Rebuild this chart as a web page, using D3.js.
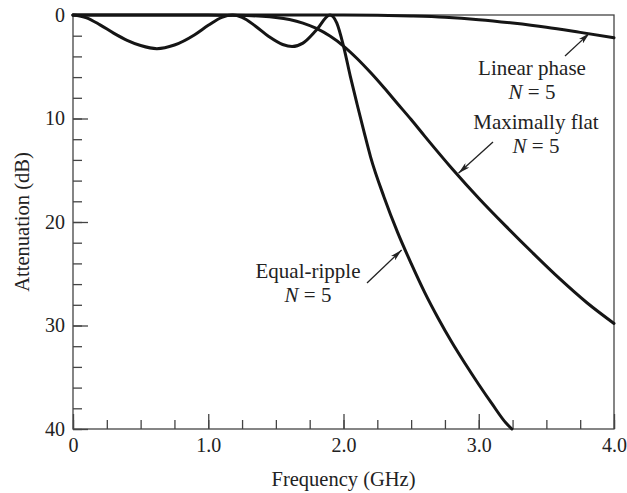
<!DOCTYPE html>
<html><head><meta charset="utf-8">
<script src="https://cdn.jsdelivr.net/npm/d3@7"></script>
<style>
html,body{margin:0;padding:0;background:#fff;}
svg{display:block;}
text{font-family:"Liberation Serif","Times New Roman",serif;fill:#222;}
</style></head>
<body>
<svg id="chart" width="627" height="493"></svg>
<script>
// ---- data ----
const xTickValues = [0, 1, 2, 3, 4];
const xTickLabels = ["0", "1.0", "2.0", "3.0", "4.0"];
const yTickValues = [0, 10, 20, 30, 40];
const yTickLabels = ["0", "10", "20", "30", "40"];

const equalRippleFreq = [0, 0.1, 0.2, 0.3, 0.4, 0.5, 0.62, 0.75, 0.9, 1.0, 1.1, 1.18, 1.25, 1.35, 1.45, 1.55, 1.62, 1.7, 1.8, 1.9, 1.95, 2.0, 2.05, 2.1, 2.15, 2.2, 2.3, 2.4, 2.5, 2.6, 2.7, 2.8, 2.9, 3.0, 3.1, 3.2, 3.245];
const equalRippleAtten = [0, 0.27, 0.95, 1.75, 2.45, 2.95, 3.25, 2.9, 1.9, 1.0, 0.22, 0, 0.23, 1.08, 2.1, 2.85, 3.05, 2.72, 1.45, 0, 0.76, 3.0, 5.9, 8.6, 11.2, 13.7, 17.6, 21.0, 24.0, 26.8, 29.3, 31.6, 33.7, 35.7, 37.6, 39.4, 40];

const maxFlatFreq = [0, 0.5, 1.0, 1.2, 1.4, 1.5, 1.6, 1.7, 1.8, 1.9, 2.0, 2.1, 2.2, 2.3, 2.4, 2.5, 2.6, 2.8, 3.0, 3.2, 3.4, 3.6, 3.8, 4.0];
const maxFlatAtten = [0, 0, 0.01, 0.03, 0.12, 0.24, 0.44, 0.78, 1.3, 2.04, 3.0, 4.2, 5.56, 7.03, 8.57, 10.1, 11.7, 14.8, 17.7, 20.4, 23.0, 25.5, 27.8, 29.8];

const linPhaseFreq = [0, 1.0, 2.0, 2.25, 2.5, 2.75, 3.0, 3.25, 3.5, 3.75, 4.0];
const linPhaseAtten = [0, 0, 0, 0.03, 0.1, 0.22, 0.45, 0.78, 1.18, 1.68, 2.2];

const annotations = [
  {lines: ["Linear phase", "N = 5"], f: 3.82, a: 1.75},
  {lines: ["Maximally flat", "N = 5"], f: 2.85, a: 15.3},
  {lines: ["Equal-ripple", "N = 5"], f: 2.43, a: 22.7}
];

// ---- layout ----
const svg = d3.select("#chart");
const x = d3.scaleLinear().domain([0, 4]).range([73, 614]);
const y = d3.scaleLinear().domain([0, 40]).range([15, 429]);

const axisColor = "#444";

// frame
svg.append("rect")
  .attr("x", x(0)).attr("y", y(0))
  .attr("width", x(4) - x(0)).attr("height", y(40) - y(0))
  .attr("fill", "none").attr("stroke", axisColor).attr("stroke-width", 1.3);

// minor ticks x
const gxMinor = svg.append("g").attr("transform", `translate(0,${y(40)})`)
  .call(d3.axisBottom(x).tickValues(d3.range(0, 4.01, 0.25)).tickSize(-9).tickFormat(""));
// major ticks x
const gx = svg.append("g").attr("transform", `translate(0,${y(40)})`)
  .call(d3.axisBottom(x).tickValues(xTickValues).tickSize(-15).tickPadding(9)
    .tickFormat((d, i) => xTickLabels[i]));
// minor ticks y
const gyMinor = svg.append("g").attr("transform", `translate(${x(0)},0)`)
  .call(d3.axisLeft(y).tickValues(d3.range(0, 40.01, 2)).tickSize(-9).tickFormat(""));
// major ticks y
const gy = svg.append("g").attr("transform", `translate(${x(0)},0)`)
  .call(d3.axisLeft(y).tickValues(yTickValues).tickSize(-15).tickPadding(8)
    .tickFormat((d, i) => yTickLabels[i]));

[gxMinor, gx, gyMinor, gy].forEach(g => {
  g.select(".domain").remove();
  g.selectAll(".tick line").attr("stroke", axisColor).attr("stroke-width", 1.3);
  g.selectAll(".tick text").attr("font-family", "Liberation Serif, serif")
    .attr("font-size", 20).attr("fill", "#222");
});
gx.selectAll(".tick text").attr("dy", "0.71em");

// axis titles
svg.append("text").attr("x", (x(0) + x(4)) / 2).attr("y", 486)
  .attr("text-anchor", "middle").attr("font-size", 20.5).text("Frequency (GHz)");
svg.append("text").attr("transform", `translate(29,${(y(0) + y(40)) / 2}) rotate(-90)`)
  .attr("text-anchor", "middle").attr("font-size", 20.5).text("Attenuation (dB)");

// curves
const line = d3.line().x(d => x(d[0])).y(d => y(d[1])).curve(d3.curveMonotoneX);
const series = [
  d3.zip(linPhaseFreq, linPhaseAtten),
  d3.zip(maxFlatFreq, maxFlatAtten),
  d3.zip(equalRippleFreq, equalRippleAtten)
];
svg.append("g").selectAll("path").data(series).join("path")
  .attr("d", line).attr("fill", "none").attr("stroke", "#151515")
  .attr("stroke-width", 3).attr("stroke-linejoin", "round").attr("stroke-linecap", "round");

// arrow marker
svg.append("defs").append("marker").attr("id", "arr")
  .attr("viewBox", "0 0 12 6").attr("refX", 12).attr("refY", 3)
  .attr("markerWidth", 12).attr("markerHeight", 6).attr("markerUnits", "userSpaceOnUse")
  .attr("orient", "auto")
  .append("path").attr("d", "M0,0 L12,3 L0,6 L3,3 Z").attr("fill", "#222");

// annotations (text position & arrow tail offsets in px)
const annLayout = [
  {tx: 532, ty1: 75, ty2: 99, ax: 565, ay: 56},
  {tx: 536, ty1: 129, ty2: 153, ax: 493, ay: 142},
  {tx: 308, ty1: 278, ty2: 302, ax: 367, ay: 283}
];
annotations.forEach((a, i) => {
  const L = annLayout[i];
  const g = svg.append("g");
  g.append("text").attr("x", L.tx).attr("y", L.ty1).attr("text-anchor", "middle")
    .attr("font-size", 21).text(a.lines[0]);
  const t2 = g.append("text").attr("x", L.tx).attr("y", L.ty2).attr("text-anchor", "middle")
    .attr("font-size", 21);
  t2.append("tspan").attr("font-style", "italic").text("N");
  t2.append("tspan").text(" = 5");
  g.append("line").attr("x1", L.ax).attr("y1", L.ay)
    .attr("x2", x(a.f)).attr("y2", y(a.a))
    .attr("stroke", "#222").attr("stroke-width", 1.3).attr("marker-end", "url(#arr)");
});
</script>
</body></html>
